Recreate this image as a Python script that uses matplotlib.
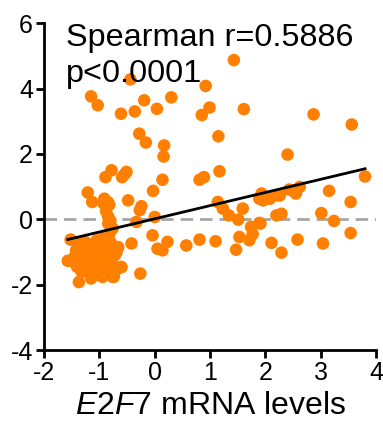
import numpy as np
import matplotlib
matplotlib.use("Agg")
import matplotlib.pyplot as plt

plt.rcParams['font.family'] = ['Liberation Sans', 'DejaVu Sans']
plt.rcParams['axes.unicode_minus'] = False
plt.rcParams['mathtext.fontset'] = 'custom'
plt.rcParams['mathtext.rm'] = 'Liberation Sans'
plt.rcParams['mathtext.it'] = 'Liberation Sans:italic'

# data (x = E2F7 mRNA level, y = other gene level)
upper_x = [1.43, -1.15, -1.03, -0.44, -0.61, -0.36, -0.19, 0.04, 0.30, 0.92, 0.85, 0.99,
           1.61, 2.87, 3.56, -0.28, -0.16, 1.15, 0.17, 0.16, 2.40]
upper_y = [4.87, 3.76, 3.49, 4.28, 3.23, 3.30, 3.64, 3.38, 3.73, 4.08, 3.19, 3.42,
           3.37, 3.21, 2.90, 2.62, 2.35, 2.54, 2.26, 1.92, 1.98]

mid_x = [-0.78, -0.89, -0.59, -0.55, -0.51, 0.14, 0.81, 0.89, 1.17, 3.80, -1.21, -1.13,
         -0.91, -0.85, -0.82, -0.93, -0.88, -0.84, -0.48, -0.03, -0.24, -0.27, 1.14, 1.23,
         1.34, 1.59, 1.51, 1.89, 1.93, 1.96, 2.08, 2.20, 2.26, 2.43, 2.50, 2.55, 2.62, 3.15,
         3.54, 3.01, 2.20, 2.29, 3.24, 1.89, 0.00, -0.33]
mid_y = [1.50, 1.29, 1.29, 1.37, 1.45, 1.21, 1.21, 1.29, 1.47, 1.31, 0.82, 0.53,
         0.63, 0.53, 0.45, 0.50, 0.25, 0.08, 0.58, 0.87, 0.40, 0.28, 0.53, 0.33,
         0.12, 0.33, -0.01, 0.63, 0.79, 0.58, 0.63, 0.73, 0.73, 0.91, 0.89, 0.79, 0.99, 0.87,
         0.53, 0.19, 0.12, 0.17, -0.05, -0.11, 0.07, -0.08]

lower_x = [-0.04, 0.05, 0.14, 0.23, 0.57, 0.81, 1.10, 1.47, 1.53, 1.71, 1.77, 1.74, 1.91,
           2.11, 2.29, 2.58, 3.04, 3.54, -0.42, -0.26, -0.60, -0.74, -0.66, -0.69,
           -0.94, -0.82, -0.76, -0.84, -0.80]
lower_y = [-0.49, -0.90, -0.95, -0.69, -0.80, -0.62, -0.67, -0.93, -0.54, -0.64, -0.45, -0.23, -0.13,
           -0.72, -1.02, -0.62, -0.74, -0.42, -0.74, -1.66, -1.46, -1.76, -0.85, -1.00,
           -0.59, -0.44, -0.28, -0.13, -0.05]

cluster_x = [-1.57, -1.52, -1.40, -1.37, -1.15, -0.94, -0.76, -0.61,
             -1.30, -1.22, -1.15, -1.05, -0.98, -0.90, -1.35, -1.25, -1.18, -1.10, -1.02,
             -0.95, -0.88, -0.82, -1.30, -1.20, -1.12, -1.05, -0.98, -0.90, -0.85, -1.28,
             -1.18, -1.08, -1.00, -0.92, -1.22, -1.12, -1.02, -0.88, -1.45, -1.42, -1.48,
             -0.78, -0.72, -0.80, -0.88, -1.05, -1.25, -1.38, -0.70, -1.32, -1.15, -1.08, -0.95]
cluster_y = [-1.27, -0.62, -1.46, -1.92, -1.81, -1.76, -1.76, -1.46,
             -0.85, -0.95, -0.80, -0.90, -0.75, -0.85, -1.05, -1.10, -1.05, -1.15, -1.05,
             -1.10, -1.00, -1.15, -1.25, -1.30, -1.25, -1.35, -1.25, -1.30, -1.40, -1.40,
             -1.50, -1.45, -1.55, -1.50, -1.62, -1.65, -1.70, -1.62, -1.15, -0.95, -1.30,
             -1.30, -1.10, -0.70, -0.60, -0.65, -0.70, -0.75, -1.55, -1.60, -1.10, -1.00, -0.95]

# regression line
fit_slope = 0.403
fit_intercept = 0.015

stat_lines = ["Spearman r=0.5886", "p<0.0001"]
x_ticks = [-2, -1, 0, 1, 2, 3, 4]
y_ticks = [-4, -2, 0, 2, 4, 6]

x = np.array(upper_x + mid_x + lower_x + cluster_x)
y = np.array(upper_y + mid_y + lower_y + cluster_y)

fig = plt.figure(figsize=(3.83, 4.29), dpi=100)
ax = fig.add_axes([0.115, 0.184, 0.867, 0.762])

ax.axhline(0, color='#A6A6A6', lw=2, ls=(0, (4.5, 2.5)), zorder=1)
ax.scatter(x, y, s=82, color='#FF8000', edgecolors='none', zorder=2)
xl = np.array([x.min(), x.max()])
ax.plot(xl, fit_slope * xl + fit_intercept, color='black', lw=2, zorder=3)

ax.set_xlim(-2, 4)
ax.set_ylim(-4, 6)
ax.set_xticks(x_ticks)
ax.set_yticks(y_ticks)
ax.set_xticklabels([str(t) for t in x_ticks])
ax.set_yticklabels([str(t) for t in y_ticks])
for s in ['top', 'right']:
    ax.spines[s].set_visible(False)
for s in ['left', 'bottom']:
    ax.spines[s].set_linewidth(2)
ax.tick_params(width=2, length=6, labelsize=18, pad=2)
ax.set_xlabel(r'$\mathit{E2F7}$ mRNA levels', fontsize=23, labelpad=4)

ax.text(-1.6, 5.29, stat_lines[0], fontsize=23.3, va='baseline', ha='left')
ax.text(-1.6, 4.19, stat_lines[1], fontsize=23.3, va='baseline', ha='left')

fig.savefig('out.png', dpi=100)
